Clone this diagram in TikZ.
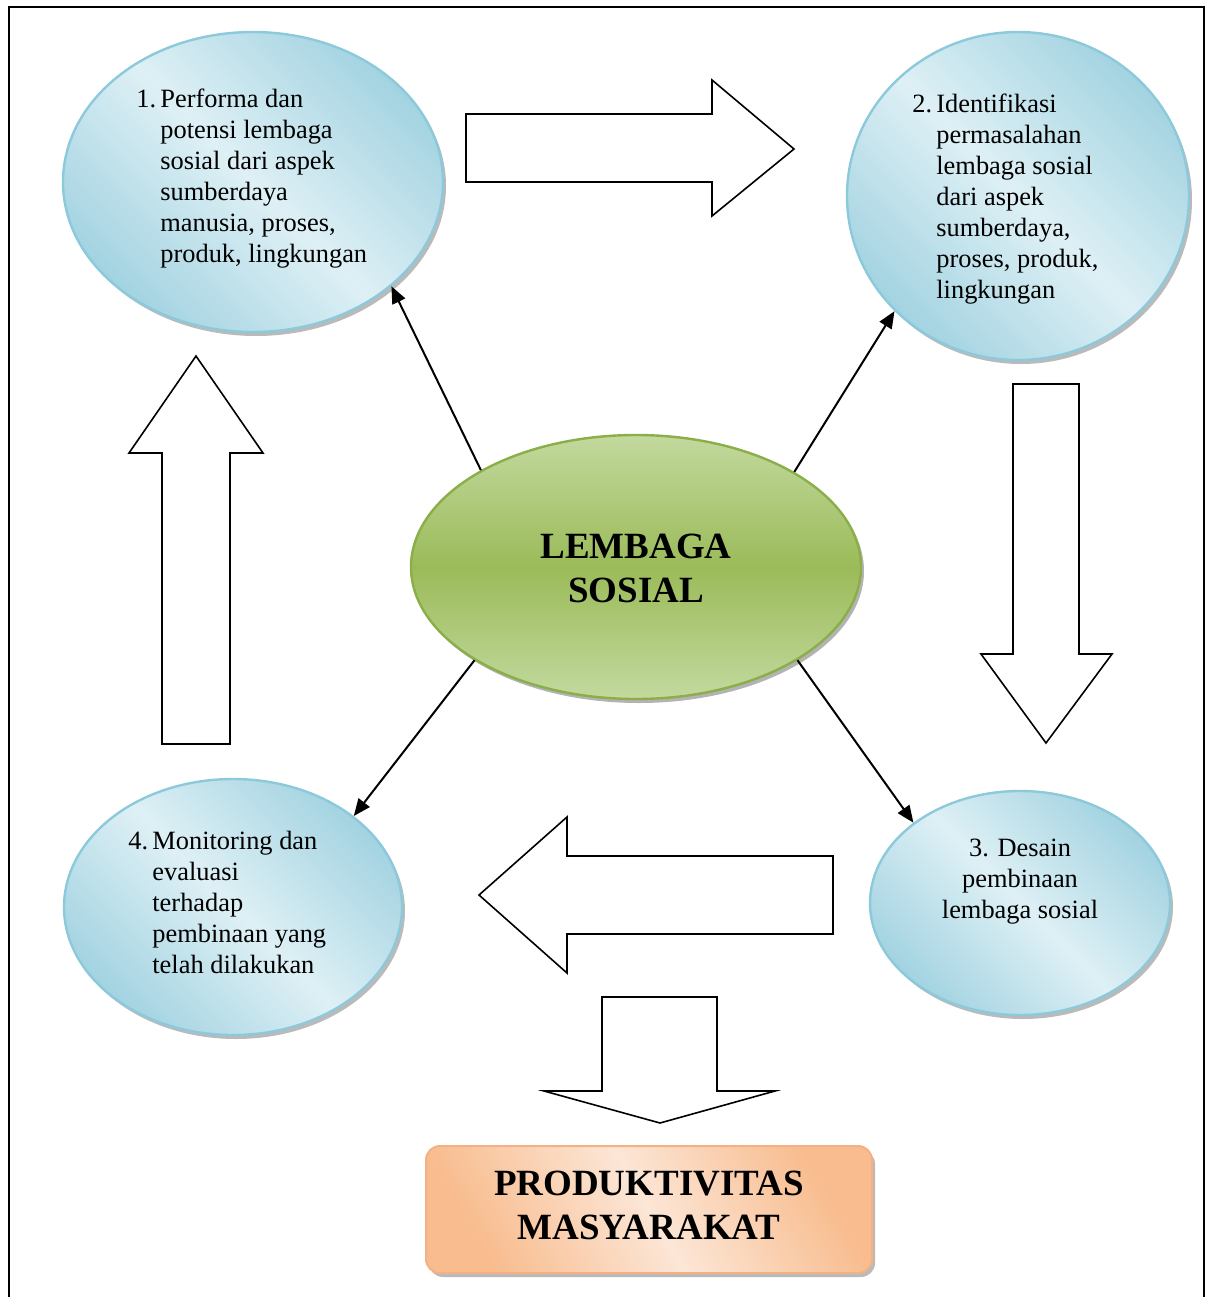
\documentclass[tikz,border=0pt]{standalone}
\usepackage{fontspec}
\setmainfont{Liberation Serif}
\usetikzlibrary{shapes.geometric,shadows,arrows.meta}
\definecolor{bluedark}{HTML}{A3D3E1}
\definecolor{bluelight}{HTML}{DEF0F5}
\definecolor{blueedge}{HTML}{8CCADB}
\definecolor{greenlight}{HTML}{C3D99E}
\definecolor{greenmid}{HTML}{9BBB59}
\definecolor{greenedge}{HTML}{8AAE48}
\definecolor{orangedark}{HTML}{F8BC8E}
\definecolor{orangelight}{HTML}{FCE6D6}
\definecolor{orangeedge}{HTML}{F4B183}
\tikzset{
  stepellipse/.style={ellipse, draw=blueedge, line width=1.2pt,
    top color=bluedark, bottom color=bluedark, middle color=bluelight, shading angle=-45,
    drop shadow={shadow xshift=1.5pt, shadow yshift=-2pt, fill=black!45, opacity=0.6},
    inner sep=0pt},
  steptext/.style={inner sep=0pt, anchor=base west, font=\fontsize{13.2}{15.5}\selectfont},
  boldtext/.style={inner sep=0pt, font=\fontsize{18.5}{22}\selectfont\bfseries, align=center},
  conn/.style={line width=1pt, -{Triangle[length=8.5pt,width=7pt]}},
  blockarrow/.style={draw=black, fill=white, line width=0.8pt, line join=miter},
  frameline/.style={draw=black, line width=1pt}
}
\newcommand{\hang}[1]{\begin{tabular}[t]{@{}p{12pt}@{}l@{}}#1\end{tabular}}
\begin{document}
\begin{tikzpicture}[x=0.5pt,y=-0.5pt]
\useasboundingbox (0,0) rectangle (1206,1297);
% frame
\draw[frameline] (9,1297) -- (9,7) -- (1204,7) -- (1204,1297);

% ellipses
\node[stepellipse, minimum width=190pt, minimum height=150pt] (n1) at (253,182) {};
\node[stepellipse, minimum width=171pt, minimum height=164pt] (n2) at (1018,196) {};
\node[stepellipse, minimum width=150pt, minimum height=112pt] (n3) at (1020,903) {};
\node[stepellipse, minimum width=169pt, minimum height=128pt] (n4) at (233,907) {};
\node[ellipse, draw=greenedge, line width=1.2pt, inner sep=0pt,
  top color=greenlight, bottom color=greenlight, middle color=greenmid,
  drop shadow={shadow xshift=1.5pt, shadow yshift=-2pt, fill=black!50, opacity=0.6},
  minimum width=225pt, minimum height=132pt] (c) at (636,567) {};
\node[rectangle, rounded corners=7pt, draw=orangeedge, line width=1pt,
  top color=orangedark, bottom color=orangedark, middle color=orangelight, shading angle=-60,
  drop shadow={shadow xshift=1.5pt, shadow yshift=-2pt, fill=black!45, opacity=0.6},
  minimum width=223pt, minimum height=63.5pt] (p) at (649,1209.5) {};

% texts
\node[steptext] (t1) at (136,107) {\hang{1. & Performa dan\\ & potensi lembaga\\ & sosial dari aspek\\ & sumberdaya\\ & manusia, proses,\\ & produk, lingkungan}};
\node[steptext] (t2) at (912,112) {\hang{2. & Identifikasi\\ & permasalahan\\ & lembaga sosial\\ & dari aspek\\ & sumberdaya,\\ & proses, produk,\\ & lingkungan}};
\node[steptext, anchor=base] (t3) at (1020,856) {\begin{tabular}[t]{@{}c@{}}3. Desain\\ pembinaan\\ lembaga sosial\end{tabular}};
\node[steptext] (t4) at (128,849) {\hang{4. & Monitoring dan\\ & evaluasi\\ & terhadap\\ & pembinaan yang\\ & telah dilakukan}};
\node[boldtext, anchor=base] (tc) at (636,558) {\begin{tabular}[t]{@{}c@{}}LEMBAGA\\[0pt] SOSIAL\end{tabular}};
\node[boldtext, anchor=base] (tp) at (649,1195) {\begin{tabular}[t]{@{}c@{}}PRODUKTIVITAS\\ MASYARAKAT\end{tabular}};

% connectors
\draw[conn] (c.148.8) -- (n1.-37.9);
\draw[conn] (c.31) -- (n2.223.5);
\draw[conn] (c.-30) -- (n3.143);
\draw[conn] (c.210) -- (n4.37.4);

% block arrows
\draw[blockarrow] (466,114) -- (712,114) -- (712,80) -- (794,149) -- (712,216) -- (712,182) -- (466,182) -- cycle;
\draw[blockarrow] (1013,384) -- (1079,384) -- (1079,654) -- (1112,654) -- (1046,743) -- (981,654) -- (1013,654) -- cycle;
\draw[blockarrow] (833,856) -- (567,856) -- (567,817) -- (479,895) -- (567,973) -- (567,934) -- (833,934) -- cycle;
\draw[blockarrow] (162,744) -- (162,453) -- (129,453) -- (196,356) -- (263,453) -- (230,453) -- (230,744) -- cycle;
\draw[blockarrow] (602,997) -- (717,997) -- (717,1091) -- (775,1091) -- (660,1123) -- (544,1091) -- (602,1091) -- cycle;
\end{tikzpicture}
\end{document}
